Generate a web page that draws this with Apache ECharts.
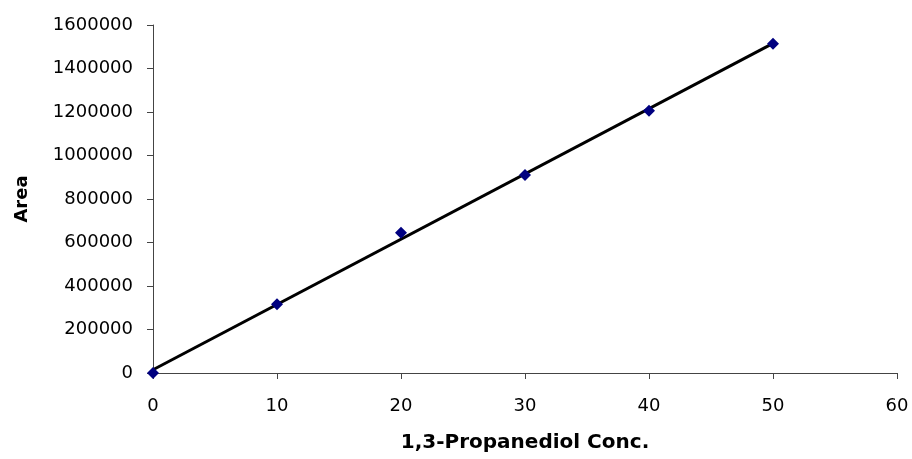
<!DOCTYPE html>
<html>
<head>
<meta charset="utf-8">
<script src="https://cdn.jsdelivr.net/npm/echarts@6/dist/echarts.min.js"></script>
<style>
html,body{margin:0;padding:0;background:#fff;}
#chart{width:912px;height:459px;}
</style>
</head>
<body>
<div id="chart"></div>
<script>
// Data
var concentrations = [0, 10, 20, 30, 40, 50];
var areas = [0, 316000, 645000, 910000, 1206000, 1514000];
var xTicks = [0, 10, 20, 30, 40, 50, 60];
var yTicks = [0, 200000, 400000, 600000, 800000, 1000000, 1200000, 1400000, 1600000];
var xTitle = '1,3-Propanediol Conc.';
var yTitle = 'Area';

// Linear trendline (least squares) computed from the data
function regression(xs, ys) {
  var n = xs.length, mx = 0, my = 0;
  for (var i = 0; i < n; i++) { mx += xs[i]; my += ys[i]; }
  mx /= n; my /= n;
  var sxy = 0, sxx = 0;
  for (var j = 0; j < n; j++) { sxy += (xs[j]-mx)*(ys[j]-my); sxx += (xs[j]-mx)*(xs[j]-mx); }
  var slope = sxy / sxx;
  return { slope: slope, intercept: my - slope*mx };
}
var fit = regression(concentrations, areas);
var xMinData = Math.min.apply(null, concentrations);
var xMaxData = Math.max.apply(null, concentrations);
var trend = [
  [xMinData, fit.intercept + fit.slope*xMinData],
  [xMaxData, fit.intercept + fit.slope*xMaxData]
];
var points = concentrations.map(function(x, i){ return [x, areas[i]]; });

var chart = echarts.init(document.getElementById('chart'), null, {renderer:'canvas'});
var labelFont = 'DejaVu Sans';
chart.setOption({
  animation: false,
  backgroundColor: '#ffffff',
  grid: { left: 153, right: 15, top: 25, bottom: 86, containLabel: false, outerBoundsMode: 'none' },
  xAxis: {
    type: 'value',
    min: xTicks[0], max: xTicks[xTicks.length-1], interval: xTicks[1]-xTicks[0],
    name: xTitle, nameLocation: 'middle', nameGap: 60,
    nameTextStyle: { fontFamily: labelFont, fontWeight: 'bold', fontSize: 20, color: '#000' },
    axisLine: { show: true, lineStyle: { color: '#444', width: 1 } },
    axisTick: { show: true, inside: false, length: 6, lineStyle: { color: '#444' } },
    axisLabel: { fontFamily: labelFont, fontSize: 18, color: '#000', margin: 24,
      formatter: function(v){ return String(v); } },
    splitLine: { show: false }
  },
  yAxis: {
    type: 'value',
    min: yTicks[0], max: yTicks[yTicks.length-1], interval: yTicks[1]-yTicks[0],
    name: yTitle, nameLocation: 'middle', nameGap: 122, nameRotate: 90,
    nameTextStyle: { fontFamily: labelFont, fontWeight: 'bold', fontSize: 18, color: '#000' },
    axisLine: { show: true, lineStyle: { color: '#444', width: 1 } },
    axisTick: { show: true, inside: false, length: 6, lineStyle: { color: '#444' } },
    axisLabel: { fontFamily: labelFont, fontSize: 18, color: '#000', margin: 20,
      formatter: function(v){ return String(v); } },
    splitLine: { show: false }
  },
  series: [
    {
      type: 'line',
      data: trend,
      symbol: 'none',
      lineStyle: { color: '#000', width: 3 },
      z: 2
    },
    {
      type: 'scatter',
      data: points,
      symbol: 'diamond',
      symbolSize: [12, 12],
      itemStyle: { color: '#000080', opacity: 1 },
      z: 3
    }
  ]
});
</script>
</body>
</html>
